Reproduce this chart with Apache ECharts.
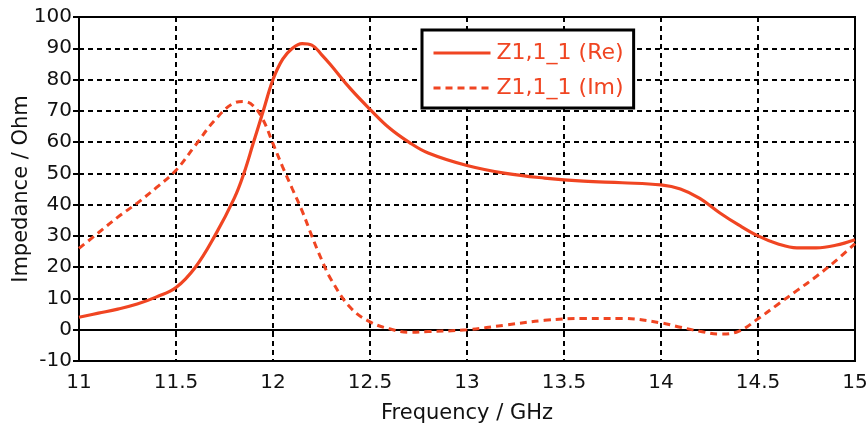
<!DOCTYPE html>
<html>
<head>
<meta charset="utf-8">
<script src="https://cdn.jsdelivr.net/npm/echarts@6/dist/echarts.min.js"></script>
<style>
    html, body { margin: 0; padding: 0; background: #fff; }
    #chart { width: 868px; height: 424px; }
</style>
</head>
<body>
<div id="chart"></div>
<script>
// frequency (GHz) and impedance
const freqRe = [11, 11.1, 11.2, 11.3, 11.4, 11.5, 11.6, 11.7, 11.8, 11.85, 11.9, 11.95, 12, 12.05, 12.1, 12.15, 12.2, 12.25, 12.3, 12.4, 12.5, 12.6, 12.7, 12.8, 13, 13.2, 13.4, 13.6, 13.8, 14, 14.1, 14.2, 14.3, 14.4, 14.5, 14.6, 14.7, 14.8, 14.9, 15];
const re = [4, 5.3, 6.6, 8.2, 10.5, 13.5, 20, 30, 42, 50, 60, 70, 80, 86.5, 90, 91.5, 91, 88, 84.5, 77, 70.5, 64.5, 60, 56.5, 52.5, 50, 48.5, 47.5, 47, 46.3, 45, 42, 37.5, 33.5, 30, 27.5, 26.2, 26.2, 27, 28.8];

const freqIm = [11, 11.1, 11.2, 11.3, 11.4, 11.5, 11.6, 11.7, 11.8, 11.85, 11.9, 11.95, 12, 12.05, 12.1, 12.15, 12.2, 12.25, 12.3, 12.4, 12.5, 12.6, 12.7, 12.8, 13, 13.2, 13.4, 13.6, 13.8, 14, 14.1, 14.2, 14.3, 14.4, 14.5, 14.6, 14.7, 14.8, 14.9, 15];
const im = [26, 31, 36, 40.5, 45.5, 51, 59, 67, 72.5, 73, 71.5, 67, 59.5, 52, 45, 38, 30, 22.5, 16, 7, 2.5, 0.3, -0.8, -0.6, 0, 1.5, 3, 3.6, 3.6, 2.2, 0.8, -0.5, -1.4, -0.5, 3.5, 8, 12.5, 17, 22, 27.5];

const seriesNames = ['Z1,1_1 (Re)', 'Z1,1_1 (Im)'];
const lineColor = '#f04522';

const chart = echarts.init(document.getElementById('chart'));

const gridLine = { show: true, lineStyle: { color: '#000', type: [5, 4], width: 2 } };
const axisFont = { color: '#111', fontSize: 20, fontFamily: 'DejaVu Sans' };

chart.setOption({
    animation: false,
    grid: {
        left: 79, right: 13, top: 17, bottom: 63,
        outerBoundsMode: 'none',
        show: true, borderColor: '#000', borderWidth: 2
    },
    legend: {
        left: 422, top: 30,
        orient: 'vertical',
        backgroundColor: '#fff',
        borderColor: '#000', borderWidth: 3,
        padding: [12, 10, 9, 10],
        itemGap: 13,
        itemWidth: 57, itemHeight: 14,
        itemStyle: { opacity: 0 },
        lineStyle: { width: 3 },
        textStyle: { color: lineColor, fontSize: 22, fontFamily: 'DejaVu Sans', padding: [0, 0, 0, 1] },
        data: seriesNames
    },
    xAxis: {
        type: 'value', min: 11, max: 15, interval: 0.5,
        name: 'Frequency / GHz', nameLocation: 'middle', nameGap: 42,
        nameMoveOverlap: false,
        nameTextStyle: Object.assign({}, axisFont, { fontSize: 21 }),
        axisLine: { lineStyle: { color: '#000', width: 2 } },
        axisTick: { show: true, length: 6, inside: false, lineStyle: { color: '#000', width: 2 } },
        axisLabel: Object.assign({ margin: 12 }, axisFont),
        splitLine: gridLine
    },
    yAxis: {
        type: 'value', min: -10, max: 100, interval: 10,
        name: 'Impedance / Ohm', nameLocation: 'middle', nameGap: 47,
        nameMoveOverlap: false,
        nameTextStyle: Object.assign({}, axisFont, { fontSize: 21 }),
        axisLine: { show: true, lineStyle: { color: '#000', width: 2 } },
        axisTick: { show: true, length: 6, lineStyle: { color: '#000', width: 2 } },
        axisLabel: Object.assign({ margin: 7 }, axisFont),
        splitLine: gridLine
    },
    series: [
        {
            name: seriesNames[0], type: 'line', smooth: 0.4, symbol: 'none',
            data: freqRe.map((f, i) => [f, re[i]]),
            lineStyle: { color: lineColor, width: 3.2 },
            itemStyle: { color: lineColor }
        },
        {
            name: seriesNames[1], type: 'line', smooth: 0.4, symbol: 'none',
            data: freqIm.map((f, i) => [f, im[i]]),
            lineStyle: { color: lineColor, width: 3, type: [7, 5] },
            itemStyle: { color: lineColor }
        }
    ]
});
</script>
</body>
</html>
